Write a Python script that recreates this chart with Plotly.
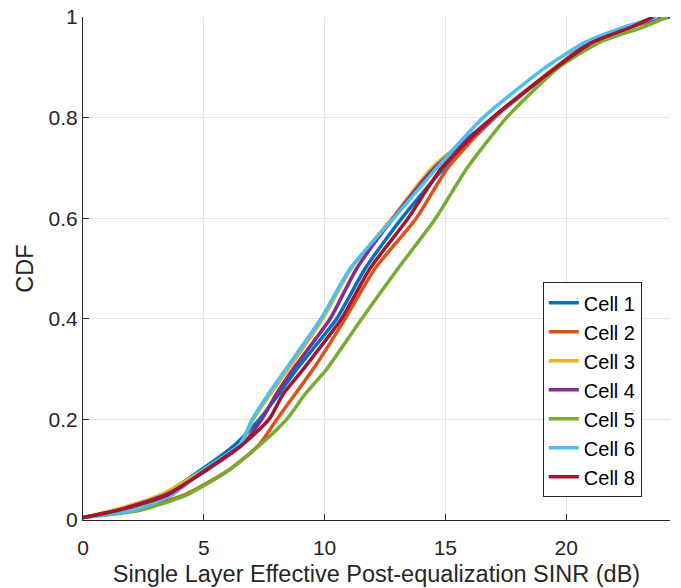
import plotly.graph_objects as go

# CDF levels (y) and SINR values (x, dB) for each cell
cdf_levels = [0.005, 0.02, 0.05, 0.10, 0.15, 0.20, 0.25, 0.30, 0.40, 0.50,
              0.60, 0.70, 0.80, 0.90, 0.95, 0.98, 1.00]

cell1 = [0.0, 1.5, 3.3, 4.9, 6.3, 7.3, 8.1, 8.85, 10.5, 11.68, 13.2, 14.95, 17.05, 19.6, 21.0, 22.6, 24.3]
cell2 = [0.0, 2.0, 4.2, 6.05, 7.3, 8.02, 8.78, 9.53, 10.85, 12.09, 13.8, 15.1, 17.0, 19.55, 21.0, 22.7, 24.0]
cell3 = [0.0, 1.3, 3.2, 5.0, 6.5, 7.05, 7.75, 8.5, 9.92, 11.1, 12.8, 14.44, 17.0, 19.55, 21.0, 22.6, 24.0]
cell4 = [0.0, 1.5, 3.4, 5.15, 6.6, 7.4, 8.0, 8.7, 10.23, 11.33, 12.84, 14.55, 16.96, 19.6, 21.0, 22.6, 23.9]
cell5 = [0.0, 2.4, 4.3, 6.07, 7.35, 8.43, 9.19, 10.09, 11.54, 13.04, 14.6, 15.9, 17.54, 19.7, 21.4, 23.2, 24.2]
cell6 = [0.0, 2.1, 3.7, 5.0, 6.5, 7.0, 7.67, 8.4, 9.85, 11.06, 12.86, 14.65, 16.56, 19.15, 20.8, 22.4, 23.8]
cell8 = [0.0, 1.5, 3.5, 5.1, 6.6, 7.7, 8.28, 9.12, 10.7, 11.88, 13.46, 14.85, 16.96, 19.6, 21.1, 22.7, 23.6]

names = ["Cell 1", "Cell 2", "Cell 3", "Cell 4", "Cell 5", "Cell 6", "Cell 8"]
series = [cell1, cell2, cell3, cell4, cell5, cell6, cell8]
colors = ["#0072BD", "#D95319", "#EDB120", "#7E2F8E", "#77AC30", "#4DBEEE", "#A2142F"]

x_ticks = [0, 5, 10, 15, 20]
y_ticks = [0, 0.2, 0.4, 0.6, 0.8, 1]

FONT = "Liberation Sans, Arial, Helvetica, sans-serif"
AX = "#262626"

fig = go.Figure()
for name, xs, col in zip(names, series, colors):
    fig.add_trace(go.Scatter(x=xs, y=cdf_levels, mode="lines", name=name,
                             line=dict(color=col, width=3.5, shape="spline", smoothing=0.6)))

fig.update_layout(
    width=681, height=588,
    margin=dict(l=83, r=11, t=17, b=68),
    paper_bgcolor="white", plot_bgcolor="white",
    font=dict(family=FONT, size=21, color=AX),
    showlegend=True,
    legend=dict(x=0.952, y=0.045, xanchor="right", yanchor="bottom",
                bgcolor="white", bordercolor=AX, borderwidth=1,
                font=dict(family=FONT, size=20, color="black")),
)
fig.update_xaxes(range=[0, 24.3], tickvals=x_ticks, ticks="inside", ticklen=6,
                 tickcolor=AX, showline=True, linecolor=AX, linewidth=1,
                 showgrid=True, gridcolor="#e5e5e5", gridwidth=1, zeroline=False,
                 automargin=False, ticklabelstandoff=9,
                 title=dict(text="Single Layer Effective Post-equalization SINR (dB)",
                            font=dict(size=23.5, color=AX), standoff=7),
                 tickfont=dict(size=21, color=AX))
fig.update_yaxes(range=[0, 1], tickvals=y_ticks, ticks="inside", ticklen=6,
                 tickcolor=AX, showline=True, linecolor=AX, linewidth=1,
                 showgrid=True, gridcolor="#e5e5e5", gridwidth=1, zeroline=False,
                 automargin=False,
                 title=dict(text="CDF", font=dict(size=23.5, color=AX), standoff=8),
                 tickfont=dict(size=21, color=AX))

fig.write_html("out.html")
